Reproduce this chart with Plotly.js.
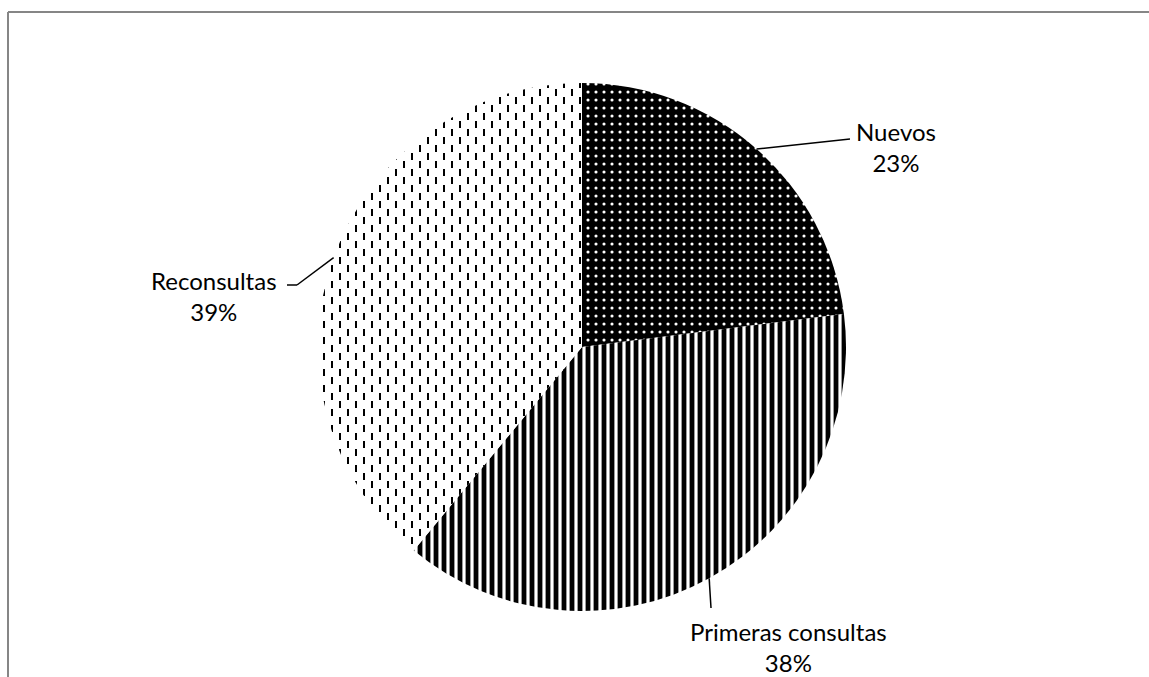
<!DOCTYPE html>
<html>
<head>
<meta charset="utf-8">
<script src="https://cdn.plot.ly/plotly-3.0.1.min.js"></script>
<style>
  html, body { margin: 0; padding: 0; background: #fff; }
  #chart { width: 1149px; height: 677px; }
</style>
</head>
<body>
<div id="chart"></div>
<script>
// Distribución de consultas
const categories = ['Nuevos', 'Primeras consultas', 'Reconsultas'];
const values = [23, 38, 39];

const W = 1149, H = 677;
const px = x => x / W;           // pixel -> paper x
const py = y => 1 - y / H;       // pixel -> paper y

// pie placement (pixels)
const cx = 582, cy = 347, R = 264;

const total = values.reduce((a, b) => a + b, 0);
const pct = v => Math.round(v / total * 100) + '%';

// angle (deg, clockwise from 12 o'clock) at the middle of each slice
const midAngles = [];
let acc = 0;
values.forEach(v => { midAngles.push((acc + v / 2) / total * 360); acc += v; });
const edgePoint = a => {
  const r = a * Math.PI / 180;
  return [cx + R * Math.sin(r), cy - R * Math.cos(r)];
};

const trace = {
  type: 'pie',
  labels: categories,
  values: values,
  sort: false,
  direction: 'clockwise',
  rotation: 0,
  textinfo: 'none',
  hoverinfo: 'label+percent',
  showlegend: false,
  domain: { x: [px(cx - R), px(cx + R)], y: [py(cy + R), py(cy - R)] },
  marker: {
    colors: ['#000000', '#ffffff', '#ffffff'],
    line: { width: 0 },
    pattern: {
      shape: ['.', '|', '|'],
      bgcolor: ['#000000', '#ffffff', '#ffffff'],
      fgcolor: ['#ffffff', '#000000', '#000000'],
      fgopacity: [1, 1, 0.55],
      size: [8, 8, 8],
      solidity: [0.12, 0.6, 0.2],
      fillmode: 'replace'
    }
  }
};

// leader lines: from slice mid-point on the rim to the label
const leaders = [
  [[850, 139]],
  [[711, 608]],
  [[297, 285], [287, 285]]
];
const shapes = [];
leaders.forEach((pts, i) => {
  let prev = edgePoint(midAngles[i]);
  pts.forEach(p => {
    shapes.push({
      type: 'line', xref: 'paper', yref: 'paper',
      x0: px(prev[0]), y0: py(prev[1]), x1: px(p[0]), y1: py(p[1]),
      line: { color: '#000000', width: 1.5 }
    });
    prev = p;
  });
});

// outer frame (top and left edges)
shapes.push({ type: 'line', xref: 'paper', yref: 'paper',
  x0: px(8), y0: py(12), x1: px(W + 5), y1: py(12),
  line: { color: '#868686', width: 2 } });
shapes.push({ type: 'line', xref: 'paper', yref: 'paper',
  x0: px(8), y0: py(12), x1: px(8), y1: py(H + 5),
  line: { color: '#868686', width: 2 } });

const labelPos = [[896, 147], [788, 647], [214, 296]];
const annotations = categories.map((c, i) => ({
  xref: 'paper', yref: 'paper',
  x: px(labelPos[i][0]), y: py(labelPos[i][1]),
  xanchor: 'center', yanchor: 'middle',
  text: c + '<br>' + pct(values[i]),
  showarrow: false,
  align: 'center',
  font: { family: 'Lato, "Open Sans", sans-serif', size: 24, color: '#000000' }
}));

const layout = {
  width: W, height: H,
  margin: { l: 0, r: 0, t: 0, b: 0 },
  paper_bgcolor: '#ffffff',
  plot_bgcolor: '#ffffff',
  shapes: shapes,
  annotations: annotations
};

const gd = document.getElementById('chart');
Plotly.newPlot(gd, [trace], layout, { displayModeBar: false, staticPlot: true }).then(() => {
  // turn the third slice's vertical hatch into staggered dashes
  const surfaces = gd.querySelectorAll('g.slice path.surface');
  const surf = surfaces[2];
  if (!surf) return;
  const fill = surf.style.fill || surf.getAttribute('fill') || '';
  const m = fill.match(/#([^"')]+)/);
  if (!m) return;
  const pat = document.getElementById(m[1]);
  if (!pat) return;
  const NS = 'http://www.w3.org/2000/svg';
  while (pat.firstChild) pat.removeChild(pat.firstChild);
  pat.setAttribute('width', 16);
  pat.setAttribute('height', 16);
  pat.setAttribute('patternUnits', 'userSpaceOnUse');
  const addRect = (x, y, w, h, c) => {
    const r = document.createElementNS(NS, 'rect');
    r.setAttribute('x', x); r.setAttribute('y', y);
    r.setAttribute('width', w); r.setAttribute('height', h);
    r.setAttribute('fill', c);
    pat.appendChild(r);
  };
  addRect(0, 0, 16, 16, '#ffffff');
  addRect(3, 1, 2, 7, '#000000');
  addRect(11, 9, 2, 7, '#000000');
});
</script>
</body>
</html>
